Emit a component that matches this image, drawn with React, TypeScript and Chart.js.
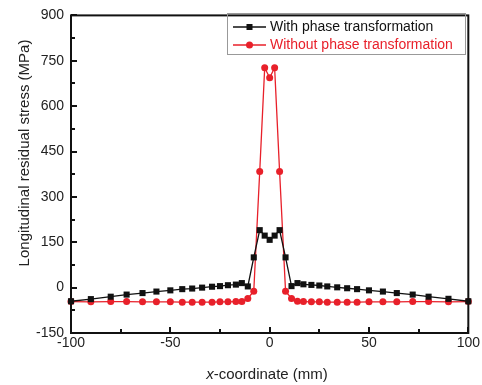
import React, { useEffect, useRef } from "react";
import { Chart, registerables } from "chart.js";

Chart.register(...registerables);

const xPositions = [-100, -90, -80, -72, -64, -57, -50, -44, -39, -34, -29, -25, -21, -17, -14, -11, -8, -5, -2.5, 0, 2.5, 5, 8, 11, 14, 17, 21, 25, 29, 34, 39, 44, 50, 57, 64, 72, 80, 90, 100];
const withPhase = [-45, -38, -30, -23, -18, -13, -9, -5, -3, 0, 3, 5, 8, 10, 15, 4, 100, 190, 172, 158, 172, 190, 100, 5, 15, 11, 9, 7, 4, 1, -2, -5, -9, -13, -18, -23, -30, -37, -45];
const withoutPhase = [-46, -47, -46, -46, -47, -47, -47, -48, -48, -48, -48, -47, -47, -46, -46, -36, -12, 384, 727, 694, 727, 384, -12, -36, -45, -46, -47, -47, -48, -48, -48, -48, -47, -47, -47, -46, -46, -47, -46];
const seriesNames = ["With phase transformation", "Without phase transformation"];
const yTicks = [-150, 0, 150, 300, 450, 600, 750, 900];
const yMinor = [-75, 75, 225, 375, 525, 675, 825];
const xTicks = [-100, -50, 0, 50, 100];
const xMinor = [-75, -25, 25, 75];
const xTitle = "x-coordinate (mm)";
const yTitle = "Longitudinal residual stress (MPa)";

const BLACK = "#111111";
const RED = "#e8202a";
const FONT = "Liberation Sans, Arial, sans-serif";

const decorPlugin = {
  id: "decor",
  afterDraw(chart: any) {
    const ctx = chart.ctx;
    const { left, right, top, bottom } = chart.chartArea;
    const xs = chart.scales.x;
    const ys = chart.scales.y;
    ctx.save();
    // ticks
    ctx.strokeStyle = "#111";
    ctx.lineWidth = 2;
    ctx.beginPath();
    yTicks.forEach((v) => {
      const p = Math.round(ys.getPixelForValue(v));
      ctx.moveTo(left, p);
      ctx.lineTo(left + 6, p);
    });
    yMinor.forEach((v) => {
      const p = Math.round(ys.getPixelForValue(v));
      ctx.moveTo(left, p);
      ctx.lineTo(left + 4, p);
    });
    xTicks.forEach((v) => {
      const p = Math.round(xs.getPixelForValue(v));
      ctx.moveTo(p, bottom);
      ctx.lineTo(p, bottom - 6);
    });
    xMinor.forEach((v) => {
      const p = Math.round(xs.getPixelForValue(v));
      ctx.moveTo(p, bottom);
      ctx.lineTo(p, bottom - 4);
    });
    ctx.stroke();
    // frame
    ctx.strokeRect(left, top, right - left, bottom - top);

    // axis titles
    ctx.fillStyle = "#222";
    ctx.textAlign = "center";
    ctx.textBaseline = "middle";
    ctx.font = "italic 15px " + FONT;
    const xPart = "x";
    ctx.font = "15px " + FONT;
    const restW = ctx.measureText(xTitle.slice(1)).width;
    ctx.font = "italic 15px " + FONT;
    const xW = ctx.measureText(xPart).width;
    const total = restW + xW;
    const cx = 267;
    const ty = 375;
    ctx.textAlign = "left";
    ctx.fillText(xPart, cx - total / 2, ty);
    ctx.font = "15px " + FONT;
    ctx.fillText(xTitle.slice(1), cx - total / 2 + xW, ty);

    ctx.translate(25, 153);
    ctx.rotate(-Math.PI / 2);
    ctx.textAlign = "center";
    ctx.fillText(yTitle, 0, 0);
    ctx.restore();

    // legend
    ctx.save();
    const bx = 227, by = 13, bw = 238, bh = 41;
    ctx.strokeStyle = "#999";
    ctx.lineWidth = 1;
    ctx.strokeRect(bx + 0.5, by + 0.5, bw, bh);
    const rows = [27, 45];
    chart.data.datasets.forEach((ds: any, i: number) => {
      const yy = rows[i];
      ctx.strokeStyle = ds.borderColor;
      ctx.lineWidth = 1.3;
      ctx.beginPath();
      ctx.moveTo(233, yy);
      ctx.lineTo(266, yy);
      ctx.stroke();
      ctx.fillStyle = ds.backgroundColor;
      if (ds.pointStyle === "rect") {
        ctx.fillRect(246.5, yy - 3, 6, 6);
      } else {
        ctx.beginPath();
        ctx.arc(249.5, yy, 3.5, 0, Math.PI * 2);
        ctx.fill();
      }
      ctx.fillStyle = i === 0 ? "#111" : RED;
      ctx.font = "14px " + FONT;
      ctx.textAlign = "left";
      ctx.textBaseline = "middle";
      ctx.fillText(ds.label, 270, yy);
    });
    ctx.restore();
  },
};

export default function App() {
  const ref = useRef<HTMLCanvasElement>(null);
  useEffect(() => {
    document.body.style.margin = "0";
    const black = xPositions.map((x, i) => ({ x, y: withPhase[i] }));
    const red = xPositions.map((x, i) => ({ x, y: withoutPhase[i] }));
    const chart = new Chart(ref.current as HTMLCanvasElement, {
      type: "scatter",
      data: {
        datasets: [
          {
            label: seriesNames[0],
            data: black,
            showLine: true,
            borderColor: BLACK,
            backgroundColor: BLACK,
            borderWidth: 1.3,
            pointStyle: "rect",
            pointRadius: 4.3,
            pointBorderWidth: 0,
            clip: false,
          } as any,
          {
            label: seriesNames[1],
            data: red,
            showLine: true,
            borderColor: RED,
            backgroundColor: RED,
            borderWidth: 1.3,
            pointStyle: "circle",
            pointRadius: 3.5,
            pointBorderWidth: 0,
            clip: false,
          } as any,
        ],
      },
      options: {
        animation: false,
        responsive: false,
        maintainAspectRatio: false,
        layout: { padding: { top: 11, right: 13, left: 0, bottom: 0 } },
        plugins: { legend: { display: false }, tooltip: { enabled: false } },
        scales: {
          x: {
            type: "linear",
            min: -100,
            max: 100,
            grid: { display: false, drawTicks: false },
            border: { display: false },
            afterFit: (s: any) => {
              s.height = 52;
            },
            afterBuildTicks: (s: any) => {
              s.ticks = xTicks.map((v) => ({ value: v }));
            },
            ticks: {
              color: "#222",
              font: { family: FONT, size: 14 },
              padding: 2,
              maxRotation: 0,
              autoSkip: false,
            },
          },
          y: {
            type: "linear",
            min: -150,
            max: 900,
            grid: { display: false, drawTicks: false },
            border: { display: false },
            afterFit: (s: any) => {
              s.width = 71;
            },
            afterBuildTicks: (s: any) => {
              s.ticks = yTicks.map((v) => ({ value: v }));
            },
            ticks: {
              color: "#222",
              font: { family: FONT, size: 14 },
              padding: 7,
              autoSkip: false,
            },
          },
        },
      },
      plugins: [decorPlugin],
    });
    return () => chart.destroy();
  }, []);
  return (
    <div style={{ position: "absolute", left: 0, top: 0, width: 482, height: 385, background: "#fff" }}>
      <canvas ref={ref} width={482} height={385} style={{ width: 482, height: 385 }} />
    </div>
  );
}
